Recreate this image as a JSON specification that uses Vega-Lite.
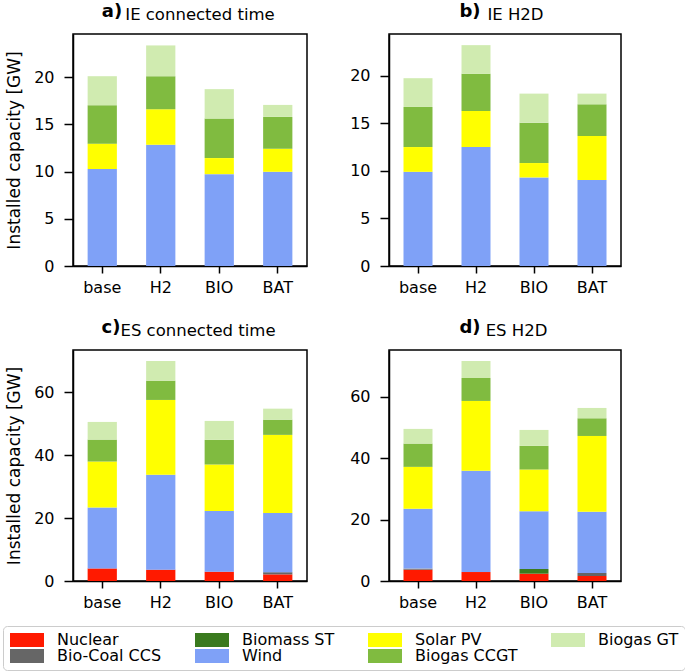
{
  "$schema": "https://vega.github.io/schema/vega-lite/v6.json",
  "padding": {"left": 2, "top": 2, "right": 2, "bottom": 2},
  "background": "white",
  "datasets": {
    "cap": [
      {"panel": "a", "scenario": "base", "tech": "Wind", "value": 10.27},
      {"panel": "a", "scenario": "base", "tech": "Solar PV", "value": 2.69},
      {"panel": "a", "scenario": "base", "tech": "Biogas CCGT", "value": 4.07},
      {"panel": "a", "scenario": "base", "tech": "Biogas GT", "value": 3.07},
      {"panel": "a", "scenario": "H2", "tech": "Wind", "value": 12.85},
      {"panel": "a", "scenario": "H2", "tech": "Solar PV", "value": 3.75},
      {"panel": "a", "scenario": "H2", "tech": "Biogas CCGT", "value": 3.5},
      {"panel": "a", "scenario": "H2", "tech": "Biogas GT", "value": 3.26},
      {"panel": "a", "scenario": "BIO", "tech": "Wind", "value": 9.73},
      {"panel": "a", "scenario": "BIO", "tech": "Solar PV", "value": 1.7},
      {"panel": "a", "scenario": "BIO", "tech": "Biogas CCGT", "value": 4.18},
      {"panel": "a", "scenario": "BIO", "tech": "Biogas GT", "value": 3.12},
      {"panel": "a", "scenario": "BAT", "tech": "Wind", "value": 9.98},
      {"panel": "a", "scenario": "BAT", "tech": "Solar PV", "value": 2.44},
      {"panel": "a", "scenario": "BAT", "tech": "Biogas CCGT", "value": 3.37},
      {"panel": "a", "scenario": "BAT", "tech": "Biogas GT", "value": 1.27},
      {"panel": "b", "scenario": "base", "tech": "Wind", "value": 9.89},
      {"panel": "b", "scenario": "base", "tech": "Solar PV", "value": 2.6},
      {"panel": "b", "scenario": "base", "tech": "Biogas CCGT", "value": 4.21},
      {"panel": "b", "scenario": "base", "tech": "Biogas GT", "value": 3.02},
      {"panel": "b", "scenario": "H2", "tech": "Wind", "value": 12.49},
      {"panel": "b", "scenario": "H2", "tech": "Solar PV", "value": 3.79},
      {"panel": "b", "scenario": "H2", "tech": "Biogas CCGT", "value": 3.9},
      {"panel": "b", "scenario": "H2", "tech": "Biogas GT", "value": 3.01},
      {"panel": "b", "scenario": "BIO", "tech": "Wind", "value": 9.3},
      {"panel": "b", "scenario": "BIO", "tech": "Solar PV", "value": 1.51},
      {"panel": "b", "scenario": "BIO", "tech": "Biogas CCGT", "value": 4.24},
      {"panel": "b", "scenario": "BIO", "tech": "Biogas GT", "value": 3.05},
      {"panel": "b", "scenario": "BAT", "tech": "Wind", "value": 9.02},
      {"panel": "b", "scenario": "BAT", "tech": "Solar PV", "value": 4.63},
      {"panel": "b", "scenario": "BAT", "tech": "Biogas CCGT", "value": 3.33},
      {"panel": "b", "scenario": "BAT", "tech": "Biogas GT", "value": 1.12},
      {"panel": "c", "scenario": "base", "tech": "Nuclear", "value": 4.0},
      {"panel": "c", "scenario": "base", "tech": "Wind", "value": 19.39},
      {"panel": "c", "scenario": "base", "tech": "Solar PV", "value": 14.6},
      {"panel": "c", "scenario": "base", "tech": "Biogas CCGT", "value": 6.98},
      {"panel": "c", "scenario": "base", "tech": "Biogas GT", "value": 5.61},
      {"panel": "c", "scenario": "H2", "tech": "Nuclear", "value": 3.6},
      {"panel": "c", "scenario": "H2", "tech": "Wind", "value": 30.16},
      {"panel": "c", "scenario": "H2", "tech": "Solar PV", "value": 23.81},
      {"panel": "c", "scenario": "H2", "tech": "Biogas CCGT", "value": 6.13},
      {"panel": "c", "scenario": "H2", "tech": "Biogas GT", "value": 6.25},
      {"panel": "c", "scenario": "BIO", "tech": "Nuclear", "value": 2.96},
      {"panel": "c", "scenario": "BIO", "tech": "Wind", "value": 19.26},
      {"panel": "c", "scenario": "BIO", "tech": "Solar PV", "value": 14.82},
      {"panel": "c", "scenario": "BIO", "tech": "Biogas CCGT", "value": 7.83},
      {"panel": "c", "scenario": "BIO", "tech": "Biogas GT", "value": 6.03},
      {"panel": "c", "scenario": "BAT", "tech": "Nuclear", "value": 2.1},
      {"panel": "c", "scenario": "BAT", "tech": "Bio-Coal CCS", "value": 0.7},
      {"panel": "c", "scenario": "BAT", "tech": "Wind", "value": 18.8},
      {"panel": "c", "scenario": "BAT", "tech": "Solar PV", "value": 24.86},
      {"panel": "c", "scenario": "BAT", "tech": "Biogas CCGT", "value": 4.84},
      {"panel": "c", "scenario": "BAT", "tech": "Biogas GT", "value": 3.5},
      {"panel": "d", "scenario": "base", "tech": "Nuclear", "value": 3.68},
      {"panel": "d", "scenario": "base", "tech": "Bio-Coal CCS", "value": 0.35},
      {"panel": "d", "scenario": "base", "tech": "Wind", "value": 19.47},
      {"panel": "d", "scenario": "base", "tech": "Solar PV", "value": 13.65},
      {"panel": "d", "scenario": "base", "tech": "Biogas CCGT", "value": 7.58},
      {"panel": "d", "scenario": "base", "tech": "Biogas GT", "value": 4.77},
      {"panel": "d", "scenario": "H2", "tech": "Nuclear", "value": 2.92},
      {"panel": "d", "scenario": "H2", "tech": "Wind", "value": 32.93},
      {"panel": "d", "scenario": "H2", "tech": "Solar PV", "value": 22.75},
      {"panel": "d", "scenario": "H2", "tech": "Biogas CCGT", "value": 7.47},
      {"panel": "d", "scenario": "H2", "tech": "Biogas GT", "value": 5.53},
      {"panel": "d", "scenario": "BIO", "tech": "Nuclear", "value": 2.38},
      {"panel": "d", "scenario": "BIO", "tech": "Biomass ST", "value": 1.52},
      {"panel": "d", "scenario": "BIO", "tech": "Wind", "value": 18.84},
      {"panel": "d", "scenario": "BIO", "tech": "Solar PV", "value": 13.54},
      {"panel": "d", "scenario": "BIO", "tech": "Biogas CCGT", "value": 7.69},
      {"panel": "d", "scenario": "BIO", "tech": "Biogas GT", "value": 5.2},
      {"panel": "d", "scenario": "BAT", "tech": "Nuclear", "value": 1.62},
      {"panel": "d", "scenario": "BAT", "tech": "Bio-Coal CCS", "value": 0.98},
      {"panel": "d", "scenario": "BAT", "tech": "Wind", "value": 19.93},
      {"panel": "d", "scenario": "BAT", "tech": "Solar PV", "value": 24.67},
      {"panel": "d", "scenario": "BAT", "tech": "Biogas CCGT", "value": 5.76},
      {"panel": "d", "scenario": "BAT", "tech": "Biogas GT", "value": 3.36}
    ]
  },
  "vconcat": [
    {
      "spacing": 40,
      "hconcat": [
        {
          "data": {"name": "cap"},
          "transform": [{"filter": "datum.panel === 'a'"}, {"calculate": "indexof(['Nuclear','Bio-Coal CCS','Biomass ST','Wind','Solar PV','Biogas CCGT','Biogas GT'], datum.tech)", "as": "stackrank"}],
          "width": 234, "height": 232,
          "title": {"text": "a)", "dx": -78, "dy": 19},
          "layer": [
            {
              "mark": {"type": "bar"},
              "encoding": {
                "x": {"field": "scenario", "type": "nominal", "sort": ["base", "H2", "BIO", "BAT"], "scale": {"paddingInner": 0.5, "paddingOuter": 0.25}, "axis": {"orient": "bottom", "title": null, "labelAngle": 0, "tickSize": 7, "labelPadding": 6}},
                "y": {"field": "value", "type": "quantitative", "stack": "zero", "scale": {"domain": [0, 24.57], "nice": false, "zero": true}, "axis": {"title": "Installed capacity [GW]", "values": [0, 5, 10, 15, 20], "tickSize": 9, "labelPadding": 10, "titlePadding": 10}},
                "order": {"field": "stackrank", "type": "quantitative", "sort": "ascending"},
                "color": {"field": "tech", "type": "nominal", "scale": {"domain": ["Nuclear", "Bio-Coal CCS", "Biomass ST", "Wind", "Solar PV", "Biogas CCGT", "Biogas GT"], "range": ["#ff1a00", "#666666", "#3a7a1e", "#7fa1f7", "#ffff00", "#80bb40", "#d0ebb0"]}, "legend": {"title": null, "values": ["Nuclear", "Biomass ST", "Solar PV", "Biogas GT", "Bio-Coal CCS", "Wind", "Biogas CCGT"]}}
              }
            },
            {
              "mark": {"type": "rule", "opacity": 0},
              "encoding": {
                "x": {"field": "scenario", "type": "nominal", "sort": ["base", "H2", "BIO", "BAT"], "axis": {"orient": "top", "title": "IE connected time", "labels": false, "ticks": false, "domain": false, "titleX": 126.5, "titleY": -15, "titleBaseline": "alphabetic", "titleFontSize": 16.5}}
              }
            }
          ],
          "resolve": {"axis": {"x": "independent"}}
        },
        {
          "data": {"name": "cap"},
          "transform": [{"filter": "datum.panel === 'b'"}, {"calculate": "indexof(['Nuclear','Bio-Coal CCS','Biomass ST','Wind','Solar PV','Biogas CCGT','Biogas GT'], datum.tech)", "as": "stackrank"}],
          "width": 232, "height": 232,
          "title": {"text": "b)", "dx": -35, "dy": 19},
          "layer": [
            {
              "mark": {"type": "bar"},
              "encoding": {
                "x": {"field": "scenario", "type": "nominal", "sort": ["base", "H2", "BIO", "BAT"], "scale": {"paddingInner": 0.5, "paddingOuter": 0.25}, "axis": {"orient": "bottom", "title": null, "labelAngle": 0, "tickSize": 7, "labelPadding": 6}},
                "y": {"field": "value", "type": "quantitative", "stack": "zero", "scale": {"domain": [0, 24.36], "nice": false, "zero": true}, "axis": {"title": null, "values": [0, 5, 10, 15, 20], "tickSize": 9, "labelPadding": 10}},
                "order": {"field": "stackrank", "type": "quantitative", "sort": "ascending"},
                "color": {"field": "tech", "type": "nominal", "scale": {"domain": ["Nuclear", "Bio-Coal CCS", "Biomass ST", "Wind", "Solar PV", "Biogas CCGT", "Biogas GT"], "range": ["#ff1a00", "#666666", "#3a7a1e", "#7fa1f7", "#ffff00", "#80bb40", "#d0ebb0"]}, "legend": {"title": null, "values": ["Nuclear", "Biomass ST", "Solar PV", "Biogas GT", "Bio-Coal CCS", "Wind", "Biogas CCGT"]}}
              }
            },
            {
              "mark": {"type": "rule", "opacity": 0},
              "encoding": {
                "x": {"field": "scenario", "type": "nominal", "sort": ["base", "H2", "BIO", "BAT"], "axis": {"orient": "top", "title": "IE H2D", "labels": false, "ticks": false, "domain": false, "titleX": 126, "titleY": -15, "titleBaseline": "alphabetic", "titleFontSize": 16.5}}
              }
            }
          ],
          "resolve": {"axis": {"x": "independent"}}
        }
      ]
    },
    {
      "spacing": 40,
      "hconcat": [
        {
          "data": {"name": "cap"},
          "transform": [{"filter": "datum.panel === 'c'"}, {"calculate": "indexof(['Nuclear','Bio-Coal CCS','Biomass ST','Wind','Solar PV','Biogas CCGT','Biogas GT'], datum.tech)", "as": "stackrank"}],
          "width": 234, "height": 231,
          "title": {"text": "c)", "dx": -79, "dy": 19},
          "layer": [
            {
              "mark": {"type": "bar"},
              "encoding": {
                "x": {"field": "scenario", "type": "nominal", "sort": ["base", "H2", "BIO", "BAT"], "scale": {"paddingInner": 0.5, "paddingOuter": 0.25}, "axis": {"orient": "bottom", "title": null, "labelAngle": 0, "tickSize": 7, "labelPadding": 6}},
                "y": {"field": "value", "type": "quantitative", "stack": "zero", "scale": {"domain": [0, 73.45], "nice": false, "zero": true}, "axis": {"title": "Installed capacity [GW]", "values": [0, 20, 40, 60], "tickSize": 9, "labelPadding": 10, "titlePadding": 10}},
                "order": {"field": "stackrank", "type": "quantitative", "sort": "ascending"},
                "color": {"field": "tech", "type": "nominal", "scale": {"domain": ["Nuclear", "Bio-Coal CCS", "Biomass ST", "Wind", "Solar PV", "Biogas CCGT", "Biogas GT"], "range": ["#ff1a00", "#666666", "#3a7a1e", "#7fa1f7", "#ffff00", "#80bb40", "#d0ebb0"]}, "legend": {"title": null, "values": ["Nuclear", "Biomass ST", "Solar PV", "Biogas GT", "Bio-Coal CCS", "Wind", "Biogas CCGT"]}}
              }
            },
            {
              "mark": {"type": "rule", "opacity": 0},
              "encoding": {
                "x": {"field": "scenario", "type": "nominal", "sort": ["base", "H2", "BIO", "BAT"], "axis": {"orient": "top", "title": "ES connected time", "labels": false, "ticks": false, "domain": false, "titleX": 124.5, "titleY": -15, "titleBaseline": "alphabetic", "titleFontSize": 16.5}}
              }
            }
          ],
          "resolve": {"axis": {"x": "independent"}}
        },
        {
          "data": {"name": "cap"},
          "transform": [{"filter": "datum.panel === 'd'"}, {"calculate": "indexof(['Nuclear','Bio-Coal CCS','Biomass ST','Wind','Solar PV','Biogas CCGT','Biogas GT'], datum.tech)", "as": "stackrank"}],
          "width": 232, "height": 231,
          "title": {"text": "d)", "dx": -35, "dy": 19},
          "layer": [
            {
              "mark": {"type": "bar"},
              "encoding": {
                "x": {"field": "scenario", "type": "nominal", "sort": ["base", "H2", "BIO", "BAT"], "scale": {"paddingInner": 0.5, "paddingOuter": 0.25}, "axis": {"orient": "bottom", "title": null, "labelAngle": 0, "tickSize": 7, "labelPadding": 6}},
                "y": {"field": "value", "type": "quantitative", "stack": "zero", "scale": {"domain": [0, 75.18], "nice": false, "zero": true}, "axis": {"title": null, "values": [0, 20, 40, 60], "tickSize": 9, "labelPadding": 10}},
                "order": {"field": "stackrank", "type": "quantitative", "sort": "ascending"},
                "color": {"field": "tech", "type": "nominal", "scale": {"domain": ["Nuclear", "Bio-Coal CCS", "Biomass ST", "Wind", "Solar PV", "Biogas CCGT", "Biogas GT"], "range": ["#ff1a00", "#666666", "#3a7a1e", "#7fa1f7", "#ffff00", "#80bb40", "#d0ebb0"]}, "legend": {"title": null, "values": ["Nuclear", "Biomass ST", "Solar PV", "Biogas GT", "Bio-Coal CCS", "Wind", "Biogas CCGT"]}}
              }
            },
            {
              "mark": {"type": "rule", "opacity": 0},
              "encoding": {
                "x": {"field": "scenario", "type": "nominal", "sort": ["base", "H2", "BIO", "BAT"], "axis": {"orient": "top", "title": "ES H2D", "labels": false, "ticks": false, "domain": false, "titleX": 127, "titleY": -15, "titleBaseline": "alphabetic", "titleFontSize": 16.5}}
              }
            }
          ],
          "resolve": {"axis": {"x": "independent"}}
        }
      ]
    }
  ],
  "spacing": 22,
  "config": {
    "font": "DejaVu Sans",
    "view": {"stroke": "black", "strokeWidth": 1.5},
    "axis": {"labelFont": "DejaVu Sans", "labelFontSize": 16, "labelColor": "black", "titleFont": "DejaVu Sans", "titleFontSize": 17, "titleFontWeight": "normal", "titleColor": "black", "domainColor": "black", "tickColor": "black", "domainWidth": 1.5, "tickWidth": 1.5, "grid": false},
    "title": {"font": "DejaVu Sans", "fontSize": 18, "fontWeight": "bold", "color": "black", "anchor": "middle", "offset": 0, "baseline": "alphabetic"},
    "legend": {"orient": "none", "legendX": -70, "legendY": 592, "direction": "horizontal", "columns": 4, "symbolType": "M-1,-1H3.857V1H-1Z", "symbolSize": 196, "symbolStrokeWidth": 0, "labelFont": "DejaVu Sans", "labelFontSize": 16, "labelColor": "black", "labelOffset": 32, "columnPadding": 32, "rowPadding": 0, "padding": 6, "strokeColor": "#cccccc", "cornerRadius": 4}
  }
}
